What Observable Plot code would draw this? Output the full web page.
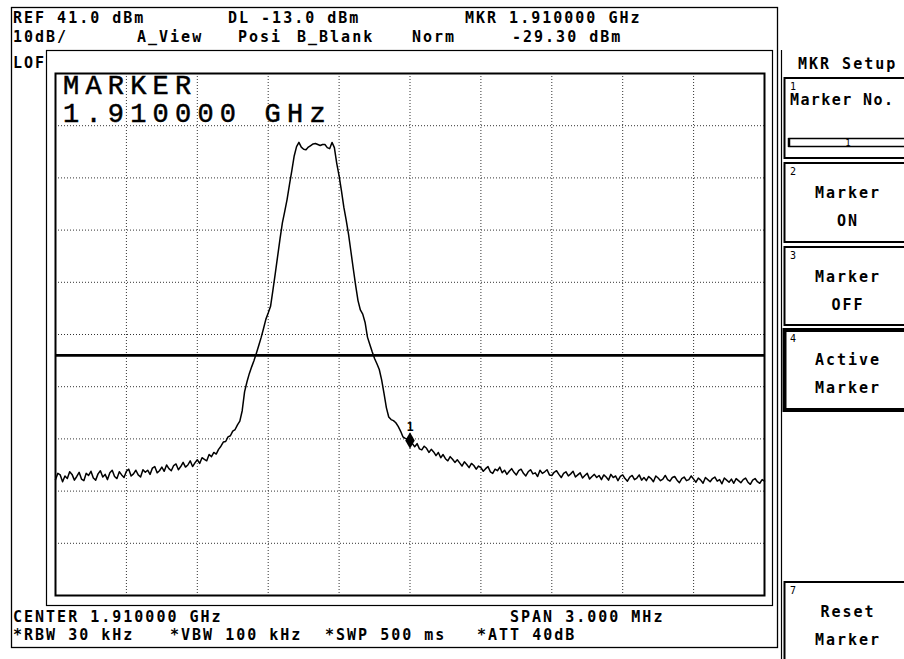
<!DOCTYPE html>
<html>
<head>
<meta charset="utf-8">
<script src="https://cdn.jsdelivr.net/npm/d3@7"></script>
<script src="https://cdn.jsdelivr.net/npm/@observablehq/plot@0.6"></script>
<style>
  html, body { margin: 0; padding: 0; background: #fff; }
  #chart svg { display: block; }
</style>
</head>
<body>
<div id="chart"></div>
<script>
// ---- data ----
const sweepStartMHz = 1908.5;   // CENTER 1.910000 GHz, SPAN 3.000 MHz
const sweepStopMHz = 1911.5;
const sweepStepMHz = 0.01;
const refLevelDbm = 41;
const bottomLevelDbm = -59;      // 10 dB/div, 10 divisions
const displayLineDbm = -13;
const markerFreqMHz = 1910.0;
const markerLevelDbm = -29.3;
const markerLabel = "1";
const gridFreqMHz = [1908.8, 1909.1, 1909.4, 1909.7, 1910.0, 1910.3, 1910.6, 1910.9, 1911.2];
const gridLevelDbm = [31, 21, 11, 1, -9, -19, -29, -39, -49];

// trace levels (dBm), one per sweep point
const levelDbm = [
  -36.8, -35.6, -35.9, -37.2, -36.1, -36.6, -35.3, -35.8, -36.9, -36.2,
  -35.4, -36.7, -37.0, -35.6, -36.0, -35.2, -36.5, -36.9, -35.7, -35.1,
  -36.3, -35.8, -36.8, -35.5, -35.0, -36.2, -36.6, -35.3, -35.9, -36.4,
  -35.2, -34.8, -36.1, -35.7, -35.0, -35.9, -36.3, -34.9, -35.4, -35.0,
  -35.8, -34.6, -34.3, -35.5, -35.1, -34.4, -35.2, -34.0, -34.7, -35.1,
  -34.1, -33.8, -34.9, -34.3, -33.5, -34.4, -34.0, -33.2, -34.3, -33.6,
  -33.0, -33.7, -32.6, -32.9, -33.2, -32.0, -32.4, -31.6, -31.9, -31.0,
  -30.4, -29.6, -29.5, -28.6, -28.4, -27.5, -27.2, -26.3, -25.6, -23.6,
  -20.0, -18.1, -16.5, -15.2, -14.0, -12.6, -11.1, -9.6, -7.9, -6.1,
  -4.9, -3.6, -0.5, 2.7, 6.0, 9.3, 12.4, 14.6, 16.9, 19.7,
  22.4, 25.2, 27.0, 27.8, 26.9, 26.5, 26.4, 26.9, 27.2, 27.5,
  27.6, 27.4, 27.2, 27.4, 27.4, 26.8, 26.6, 27.8, 26.8, 23.8,
  21.4, 18.5, 15.4, 12.9, 10.2, 6.9, 3.6, 0.4, -2.5, -4.3,
  -5.1, -6.7, -9.5, -10.9, -12.3, -13.6, -14.6, -15.7, -17.7, -20.3,
  -23.0, -24.8, -25.3, -25.5, -25.9, -26.6, -27.5, -28.6, -28.9, -29.0,
  -29.3,
  -29.9, -30.5, -29.9, -30.9, -31.1, -30.4, -30.8, -31.6, -31.0,
  -31.5, -32.2, -31.6, -32.6, -32.0, -32.8, -33.2, -32.4, -32.9, -33.5,
  -33.0, -33.6, -34.2, -33.4, -33.9, -34.5, -33.7, -34.1, -34.8, -34.2,
  -34.5, -35.2, -34.7, -34.3, -35.3, -35.6, -34.8, -35.1, -34.4, -35.5,
  -35.0, -35.8, -35.2, -34.7, -35.4, -35.9, -35.1, -34.8, -35.6, -36.1,
  -35.3, -34.9, -35.7, -35.5, -36.2, -35.0, -35.6, -35.3, -34.9, -35.9,
  -36.0, -35.4, -35.1, -35.8, -36.4, -35.6, -35.3, -36.1, -35.7, -35.2,
  -36.3, -35.9, -35.5, -36.5, -36.0, -35.6, -36.7, -36.2, -35.8, -36.4,
  -36.0, -36.8, -35.9, -36.3, -36.9, -35.8, -36.4, -36.1, -37.0, -36.2,
  -35.9, -36.6, -37.1, -36.3, -36.0, -36.8, -36.5, -35.9, -36.9, -36.4,
  -37.0, -36.2, -36.6, -37.2, -36.1, -36.5, -37.0, -36.7, -36.0, -36.8,
  -37.1, -36.4, -36.2, -36.9, -37.4, -36.6, -36.3, -37.0, -36.8, -36.1,
  -36.7, -37.3, -36.5, -36.9, -37.5, -36.4, -36.8, -37.2, -36.6, -36.3,
  -37.1, -36.8, -37.6, -36.5, -36.9, -37.3, -36.7, -37.5, -36.6, -37.0,
  -37.4, -36.8, -36.5, -37.3, -37.7, -36.9, -36.6, -37.2, -37.5, -36.8, -37.1
];

const headerTexts = [
  ["REF 41.0 dBm", 13, 23], ["DL -13.0 dBm", 228, 23], ["MKR 1.910000 GHz", 465, 23],
  ["10dB/", 13, 42], ["A_View", 137, 42], ["Posi", 238, 42], ["B_Blank", 297, 42],
  ["Norm", 412, 42], ["-29.30 dBm", 512, 42],
  ["LOF", 13, 68],
  ["CENTER 1.910000 GHz", 13, 622], ["SPAN 3.000 MHz", 510, 622],
  ["*RBW 30 kHz", 13, 640], ["*VBW 100 kHz", 170, 640], ["*SWP 500 ms", 325, 640],
  ["*ATT 40dB", 477, 640],
  ["MKR Setup", 798, 69]
];
const markerReadout = ["MARKER", "1.910000 GHz"];
const softKeys = [
  {num: "1", lines: [], top: 78, bottom: 158, thick: false},
  {num: "2", lines: ["Marker", "ON"], top: 163, bottom: 242, thick: false},
  {num: "3", lines: ["Marker", "OFF"], top: 247, bottom: 325, thick: false},
  {num: "4", lines: ["Active", "Marker"], top: 330, bottom: 410, thick: true},
  {num: "7", lines: ["Reset", "Marker"], top: 582, bottom: 700, thick: false}
];

// ---- build table ----
const trace = levelDbm.map((v, i) => ({f: sweepStartMHz + i * sweepStepMHz, dbm: v}));

const W = 904, H = 659;
const svg = Plot.plot({
  width: W, height: H,
  marginLeft: 55, marginRight: W - 764, marginTop: 73, marginBottom: H - 595,
  x: {domain: [sweepStartMHz, sweepStopMHz], axis: null},
  y: {domain: [bottomLevelDbm, refLevelDbm], axis: null},
  style: {background: "white", overflow: "visible"},
  marks: [
    Plot.ruleX(gridFreqMHz, {stroke: "#333", strokeWidth: 1, strokeDasharray: "1,2"}),
    Plot.ruleY(gridLevelDbm, {stroke: "#333", strokeWidth: 1, strokeDasharray: "1,2"}),
    Plot.ruleY([displayLineDbm], {stroke: "black", strokeWidth: 2.7}),
    Plot.line(trace, {x: "f", y: "dbm", stroke: "black", strokeWidth: 1.5, strokeLinejoin: "round"}),
    Plot.dot([{f: markerFreqMHz, dbm: markerLevelDbm}], {x: "f", y: "dbm", r: 5, fill: "black", symbol: "diamond"}),
    Plot.text([{f: markerFreqMHz, dbm: markerLevelDbm}], {x: "f", y: "dbm", text: () => markerLabel, dy: -13, fontSize: 12, fontWeight: "bold", fontFamily: "DejaVu Sans Mono", fill: "black"}),
    Plot.frame({stroke: "black", strokeWidth: 2})
  ]
});

// ---- instrument chrome ----
const g = d3.select(svg).append("g");
const box = (x1, y1, x2, y2, sw) => g.append("rect")
  .attr("x", x1).attr("y", y1).attr("width", x2 - x1).attr("height", y2 - y1)
  .attr("fill", "none").attr("stroke", "black").attr("stroke-width", sw);
box(11.5, 7.5, 777.5, 647.5, 1.3);     // outer frame
box(46.5, 50.5, 772.5, 605.5, 1.2);    // inner frame
g.append("line").attr("x1", 781.5).attr("x2", 781.5).attr("y1", 50).attr("y2", H).attr("stroke", "black").attr("stroke-width", 1.2);

const font = "DejaVu Sans Mono";
const txt = (s, x, y, opts = {}) => g.append("text")
  .attr("x", x).attr("y", y).text(s)
  .attr("font-family", opts.family || font)
  .attr("font-size", opts.size || 15)
  .attr("font-weight", opts.weight || "bold")
  .attr("letter-spacing", opts.ls != null ? opts.ls : 2)
  .attr("text-anchor", opts.anchor || "start")
  .attr("fill", "black");

headerTexts.forEach(([s, x, y]) => txt(s, x, y));
txt(markerReadout[0], 63, 94, {family: "Liberation Mono", size: 27, weight: "normal", ls: 6.2})
  .attr("stroke", "black").attr("stroke-width", 0.5);
txt(markerReadout[1], 63, 122, {family: "Liberation Mono", size: 27, weight: "normal", ls: 6.2})
  .attr("stroke", "black").attr("stroke-width", 0.5);

softKeys.forEach(k => {
  box(784.5, k.top, 912, k.bottom, k.thick ? 4 : 2);
  txt(k.num, 790, k.top + 12, {size: 10, weight: "normal", ls: 0});
  if (k.lines.length) {
    txt(k.lines[0], 848, k.top + 35, {anchor: "middle", ls: 2});
    txt(k.lines[1], 848, k.top + 63, {anchor: "middle", ls: 2});
  }
});
// soft key 1 content
txt("Marker No.", 790, 105, {ls: 1.4});
box(789, 138.5, 912, 146.5, 1.5);
g.append("line").attr("x1", 789).attr("x2", 789).attr("y1", 138).attr("y2", 147).attr("stroke", "black").attr("stroke-width", 2.5);
txt("1", 848, 146, {size: 9, weight: "normal", ls: 0, anchor: "middle"});

document.getElementById("chart").appendChild(svg);
</script>
</body>
</html>
